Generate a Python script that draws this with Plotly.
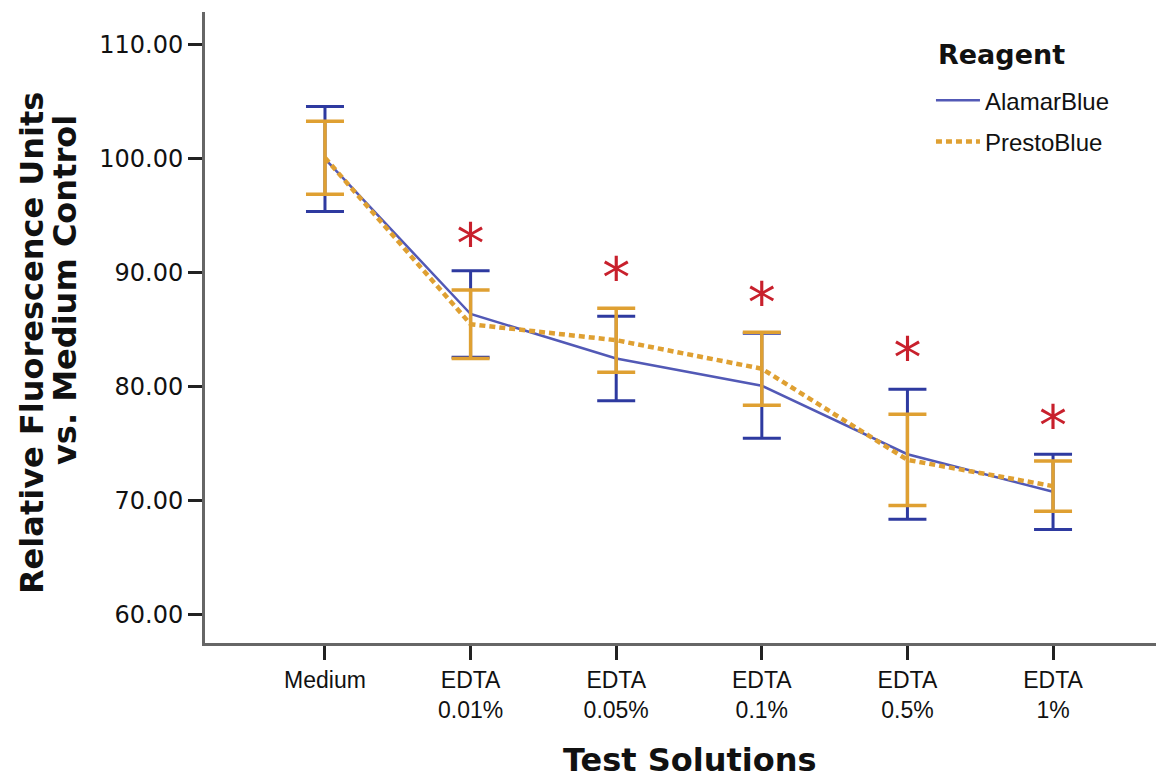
import plotly.graph_objects as go

categories = ["Medium", "EDTA<br>0.01%", "EDTA<br>0.05%", "EDTA<br>0.1%", "EDTA<br>0.5%", "EDTA<br>1%"]
alamar_mean = [100.0, 86.4, 82.5, 80.1, 74.1, 70.8]
alamar_err = [4.6, 3.8, 3.7, 4.6, 5.7, 3.3]
presto_mean = [100.1, 85.5, 84.1, 81.6, 73.6, 71.3]
presto_err = [3.2, 3.0, 2.8, 3.2, 4.0, 2.2]
star_cats = ["EDTA<br>0.01%", "EDTA<br>0.05%", "EDTA<br>0.1%", "EDTA<br>0.5%", "EDTA<br>1%"]
star_y = [92.1, 89.1, 86.9, 82.1, 76.1]
y_ticks = [60, 70, 80, 90, 100, 110]
y_title_lines = ["Relative Fluorescence Units", "vs. Medium Control"]

ORANGE = "#dfa032"
RED = "#c8202c"
FONT = "Liberation Sans, Arial, sans-serif"
WIDE = "DejaVu Sans, Verdana, sans-serif"

fig = go.Figure()
fig.add_trace(go.Scatter(
    x=categories, y=alamar_mean, name="AlamarBlue", mode="lines", legendgroup="a",
    line=dict(color="#5259b6", width=2.5),
    error_y=dict(type="data", array=alamar_err, color="#2e3aa0", thickness=3, width=19),
))
fig.add_trace(go.Scatter(
    x=categories, y=presto_mean, name="PrestoBlue", mode="lines", legendgroup="p",
    line=dict(color=ORANGE, width=4.5, dash="6px,4px"),
    error_y=dict(type="data", array=presto_err, color=ORANGE, thickness=3.5, width=19),
))
fig.add_trace(go.Scatter(
    x=star_cats, y=star_y, mode="text", text=["*"] * len(star_cats),
    textfont=dict(color=RED, size=56, family="DejaVu Sans Bold, DejaVu Sans"), showlegend=False, hoverinfo="skip",
))

annotations = [
    dict(text="<b>Reagent</b>", x=0.831, y=0.933, xref="paper", yref="paper",
         xanchor="center", yanchor="middle", showarrow=False,
         font=dict(size=27, family=WIDE, color="#111")),
    dict(text="<b>Test Solutions</b>", x=0.5057, y=-0.1854, xref="paper", yref="paper",
         xanchor="center", yanchor="middle", showarrow=False,
         font=dict(size=32, family=WIDE, color="#111")),
    dict(text="<b>" + y_title_lines[0] + "</b>", x=-0.1804, y=0.4754, xref="paper", yref="paper",
         xanchor="center", yanchor="middle", textangle=-90, showarrow=False,
         font=dict(size=32, family=WIDE, color="#111")),
    dict(text="<b>" + y_title_lines[1] + "</b>", x=-0.146, y=0.5594, xref="paper", yref="paper",
         xanchor="center", yanchor="middle", textangle=-90, showarrow=False,
         font=dict(size=32, family=WIDE, color="#111")),
]

fig.update_layout(
    width=1164, height=780,
    margin=dict(l=197, r=8, t=4, b=145),
    paper_bgcolor="white", plot_bgcolor="white",
    font=dict(family=FONT, color="#1a1a1a"),
    annotations=annotations,
    legend=dict(
        x=0.757, y=0.895, xanchor="left", yanchor="top",
        font=dict(size=24, family=FONT, color="#111"),
        bgcolor="rgba(0,0,0,0)", tracegroupgap=7, itemwidth=44,
    ),
    xaxis=dict(
        type="category", categoryorder="array", categoryarray=categories,
        range=[-0.824, 5.762], automargin=False,
        showline=True, linecolor="#666", linewidth=3,
        ticks="outside", ticklen=14, tickwidth=2.5, tickcolor="#222",
        tickfont=dict(size=23, family=FONT, color="#111"),
        showgrid=False, zeroline=False,
    ),
    yaxis=dict(
        range=[57.54, 112.89], automargin=False,
        tickvals=y_ticks, ticktext=[f"{v:.2f}" for v in y_ticks],
        showline=True, linecolor="#666", linewidth=3,
        ticks="outside", ticklen=14, tickwidth=2.5, tickcolor="#222",
        tickfont=dict(size=24, family=WIDE, color="#111"),
        showgrid=False, zeroline=False,
    ),
)

fig.write_html("out.html")
